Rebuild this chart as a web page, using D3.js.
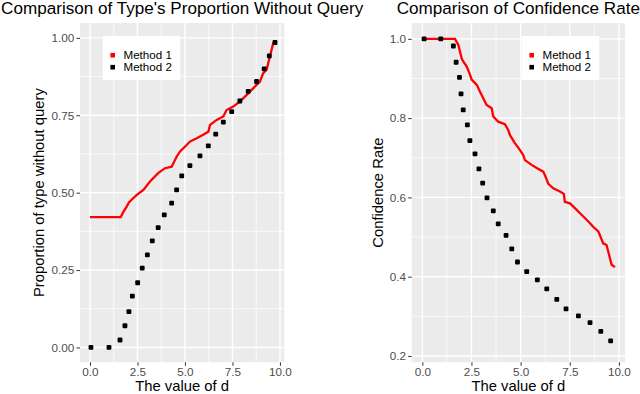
<!DOCTYPE html>
<html><head><meta charset="utf-8">
<script src="https://cdn.jsdelivr.net/npm/d3@7"></script>
<style>
html,body{margin:0;padding:0;background:#fff;}
text{font-family:"Liberation Sans",Arial,sans-serif;}
</style></head>
<body>
<svg id="chart" width="640" height="394"></svg>
<script>
// ---- data ----
const seriesNames = ["Method 1", "Method 2"];
const xTicks = [0, 2.5, 5, 7.5, 10];
const xTickLabels = ["0.0", "2.5", "5.0", "7.5", "10.0"];
const propTicks = [0, 0.25, 0.5, 0.75, 1];
const propTickLabels = ["0.00", "0.25", "0.50", "0.75", "1.00"];
const confTicks = [0.2, 0.4, 0.6, 0.8, 1.0];
const confTickLabels = ["0.2", "0.4", "0.6", "0.8", "1.0"];

// Proportion of type without query, Method 1 (solid line)
const propMethod1 = [[0,0.421],[1.62,0.421],[1.75,0.437],[1.93,0.455],[2.05,0.468],[2.19,0.477],[2.45,0.492],[2.81,0.509],[3.16,0.536],[3.59,0.563],[3.95,0.579],[4.30,0.584],[4.56,0.616],[4.74,0.633],[5.09,0.654],[5.26,0.665],[5.62,0.676],[5.96,0.687],[6.23,0.697],[6.32,0.719],[6.67,0.735],[7.02,0.746],[7.19,0.767],[7.54,0.778],[7.89,0.794],[8.25,0.816],[8.59,0.837],[8.95,0.859],[9.12,0.886],[9.30,0.897],[9.47,0.940],[9.65,0.983],[9.79,0.988]];
// Method 2 (dotted)
const propMethod2 = [[0.05,0.0],[1.0,0.0],[1.58,0.024],[1.84,0.070],[2.05,0.116],[2.23,0.166],[2.51,0.209],[2.75,0.256],[3.02,0.299],[3.28,0.344],[3.59,0.387],[3.91,0.428],[4.30,0.466],[4.56,0.509],[4.83,0.554],[5.26,0.587],[5.79,0.619],[6.23,0.651],[6.62,0.689],[7.02,0.728],[7.46,0.762],[7.89,0.796],[8.33,0.827],[8.77,0.859],[9.17,0.900],[9.44,0.942],[9.74,0.985]];

// Confidence rate, Method 1 (solid line)
const confMethod1 = [[0,1.0],[1.66,1.0],[1.83,0.985],[2.00,0.951],[2.08,0.943],[2.26,0.930],[2.43,0.909],[2.51,0.897],[2.77,0.884],[2.93,0.867],[3.10,0.850],[3.27,0.833],[3.53,0.825],[3.61,0.804],[3.86,0.791],[4.20,0.785],[4.37,0.770],[4.46,0.757],[4.71,0.737],[4.96,0.720],[5.13,0.707],[5.22,0.694],[5.56,0.682],[5.82,0.674],[6.15,0.665],[6.27,0.652],[6.41,0.634],[6.66,0.623],[7.00,0.615],[7.20,0.609],[7.25,0.589],[7.51,0.585],[7.76,0.573],[8.02,0.560],[8.27,0.548],[8.53,0.535],[8.69,0.526],[8.95,0.514],[9.03,0.505],[9.20,0.484],[9.37,0.480],[9.46,0.463],[9.54,0.447],[9.63,0.430],[9.80,0.424]];
// Method 2 (dotted)
const confMethod2 = [[0.09,1.0],[0.94,1.0],[1.58,0.982],[1.72,0.941],[1.89,0.903],[1.97,0.861],[2.08,0.821],[2.29,0.783],[2.42,0.743],[2.68,0.710],[2.88,0.672],[3.07,0.636],[3.29,0.599],[3.61,0.566],[3.86,0.533],[4.26,0.504],[4.55,0.470],[4.84,0.437],[5.31,0.413],[5.85,0.392],[6.33,0.369],[6.84,0.343],[7.31,0.319],[7.94,0.301],[8.53,0.284],[9.08,0.262],[9.58,0.238]];

// ---- drawing ----
const svg = d3.select("#chart");
const colors = ["#FF0000", "#000000"];

function panel(cfg) {
  const x = d3.scaleLinear().domain(cfg.xDomain).range([cfg.x0, cfg.x1]);
  const y = d3.scaleLinear().domain(cfg.yDomain).range([cfg.y1, cfg.y0]);
  const g = svg.append("g");
  g.append("rect").attr("x", cfg.x0).attr("y", cfg.y0)
    .attr("width", cfg.x1 - cfg.x0).attr("height", cfg.y1 - cfg.y0).attr("fill", "#EBEBEB");
  const xMinor = xTicks.slice(1).map((t, i) => (t + xTicks[i]) / 2);
  const yMinor = cfg.yTicks.slice(1).map((t, i) => (t + cfg.yTicks[i]) / 2);
  g.selectAll(".xm").data(xMinor).join("line")
    .attr("x1", d => x(d)).attr("x2", d => x(d)).attr("y1", cfg.y0).attr("y2", cfg.y1)
    .attr("stroke", "#fff").attr("stroke-width", 0.7);
  g.selectAll(".ym").data(yMinor).join("line")
    .attr("y1", d => y(d)).attr("y2", d => y(d)).attr("x1", cfg.x0).attr("x2", cfg.x1)
    .attr("stroke", "#fff").attr("stroke-width", 0.7);
  g.selectAll(".xM").data(xTicks).join("line")
    .attr("x1", d => x(d)).attr("x2", d => x(d)).attr("y1", cfg.y0).attr("y2", cfg.y1)
    .attr("stroke", "#fff").attr("stroke-width", 1.4);
  g.selectAll(".yM").data(cfg.yTicks).join("line")
    .attr("y1", d => y(d)).attr("y2", d => y(d)).attr("x1", cfg.x0).attr("x2", cfg.x1)
    .attr("stroke", "#fff").attr("stroke-width", 1.4);

  const xAxis = d3.axisBottom(x).tickValues(xTicks).tickSize(3.5).tickPadding(2.2)
    .tickFormat((d, i) => xTickLabels[i]);
  const gx = g.append("g").attr("transform", `translate(0,${cfg.y1})`).call(xAxis);
  gx.select(".domain").remove();
  gx.selectAll("line").attr("stroke", "#333").attr("stroke-width", 1);
  gx.selectAll("text").attr("fill", "#4D4D4D").attr("font-size", "11.7px")
    .attr("font-family", '"Liberation Sans",Arial,sans-serif');
  const yAxis = d3.axisLeft(y).tickValues(cfg.yTicks).tickSize(3.5).tickPadding(2.3)
    .tickFormat((d, i) => cfg.yTickLabels[i]);
  const gy = g.append("g").attr("transform", `translate(${cfg.x0},0)`).call(yAxis);
  gy.select(".domain").remove();
  gy.selectAll("line").attr("stroke", "#333").attr("stroke-width", 1);
  gy.selectAll("text").attr("fill", "#4D4D4D").attr("font-size", "11.7px")
    .attr("font-family", '"Liberation Sans",Arial,sans-serif');

  const line = d3.line().x(d => x(d[0])).y(d => y(d[1])).curve(d3.curveLinear);
  g.append("path").datum(cfg.m1).attr("d", line).attr("fill", "none")
    .attr("stroke", colors[0]).attr("stroke-width", 2.3).attr("stroke-linejoin", "miter");
  g.selectAll(".dot").data(cfg.m2).join("rect")
    .attr("x", d => x(d[0]) - 2.4).attr("y", d => y(d[1]) - 2.4)
    .attr("width", 4.8).attr("height", 4.8).attr("rx", 1).attr("fill", colors[1]);

  const cx = (cfg.x0 + cfg.x1) / 2, cy = (cfg.y0 + cfg.y1) / 2;
  svg.append("text").attr("x", cx).attr("y", 14).attr("text-anchor", "middle")
    .attr("font-size", "17.1px").attr("fill", "#000").text(cfg.title);
  svg.append("text").attr("x", cx).attr("y", 390.5).attr("text-anchor", "middle")
    .attr("font-size", "14.8px").attr("fill", "#000").text("The value of d");
  svg.append("text").attr("transform", `translate(${cfg.yTitleX},${cy}) rotate(-90)`)
    .attr("text-anchor", "middle").attr("font-size", "14.8px").attr("fill", "#000").text(cfg.yTitle);

  const lg = svg.append("g");
  lg.append("rect").attr("x", cfg.legX).attr("y", 36).attr("width", 77.5).attr("height", 44).attr("fill", "#fff");
  seriesNames.forEach((name, i) => {
    const ky = 55.2 + i * 12;
    lg.append("rect").attr("x", cfg.legX + 10 - 2.3).attr("y", ky - 2.3)
      .attr("width", 4.6).attr("height", 4.6).attr("fill", colors[i]);
    lg.append("text").attr("x", cfg.legX + 20.8).attr("y", ky + 4.2)
      .attr("font-size", "11.6px").attr("fill", "#000").text(name);
  });
}

panel({
  x0: 80, x1: 284.3, y0: 23, y1: 362.3,
  xDomain: [-0.526, 10.23], yDomain: [-0.048, 1.048],
  yTicks: propTicks, yTickLabels: propTickLabels,
  m1: propMethod1, m2: propMethod2,
  title: "Comparison of Type's Proportion Without Query",
  yTitle: "Proportion of type without query", yTitleX: 44.4,
  legX: 102.7
});
panel({
  x0: 411.7, x1: 625, y0: 23, y1: 362.3,
  xDomain: [-0.54, 10.31], yDomain: [0.184, 1.04],
  yTicks: confTicks, yTickLabels: confTickLabels,
  m1: confMethod1, m2: confMethod2,
  title: "Comparison of Confidence Rate",
  yTitle: "Confidence Rate", yTitleX: 382.7,
  legX: 521.7
});
</script>
</body></html>
